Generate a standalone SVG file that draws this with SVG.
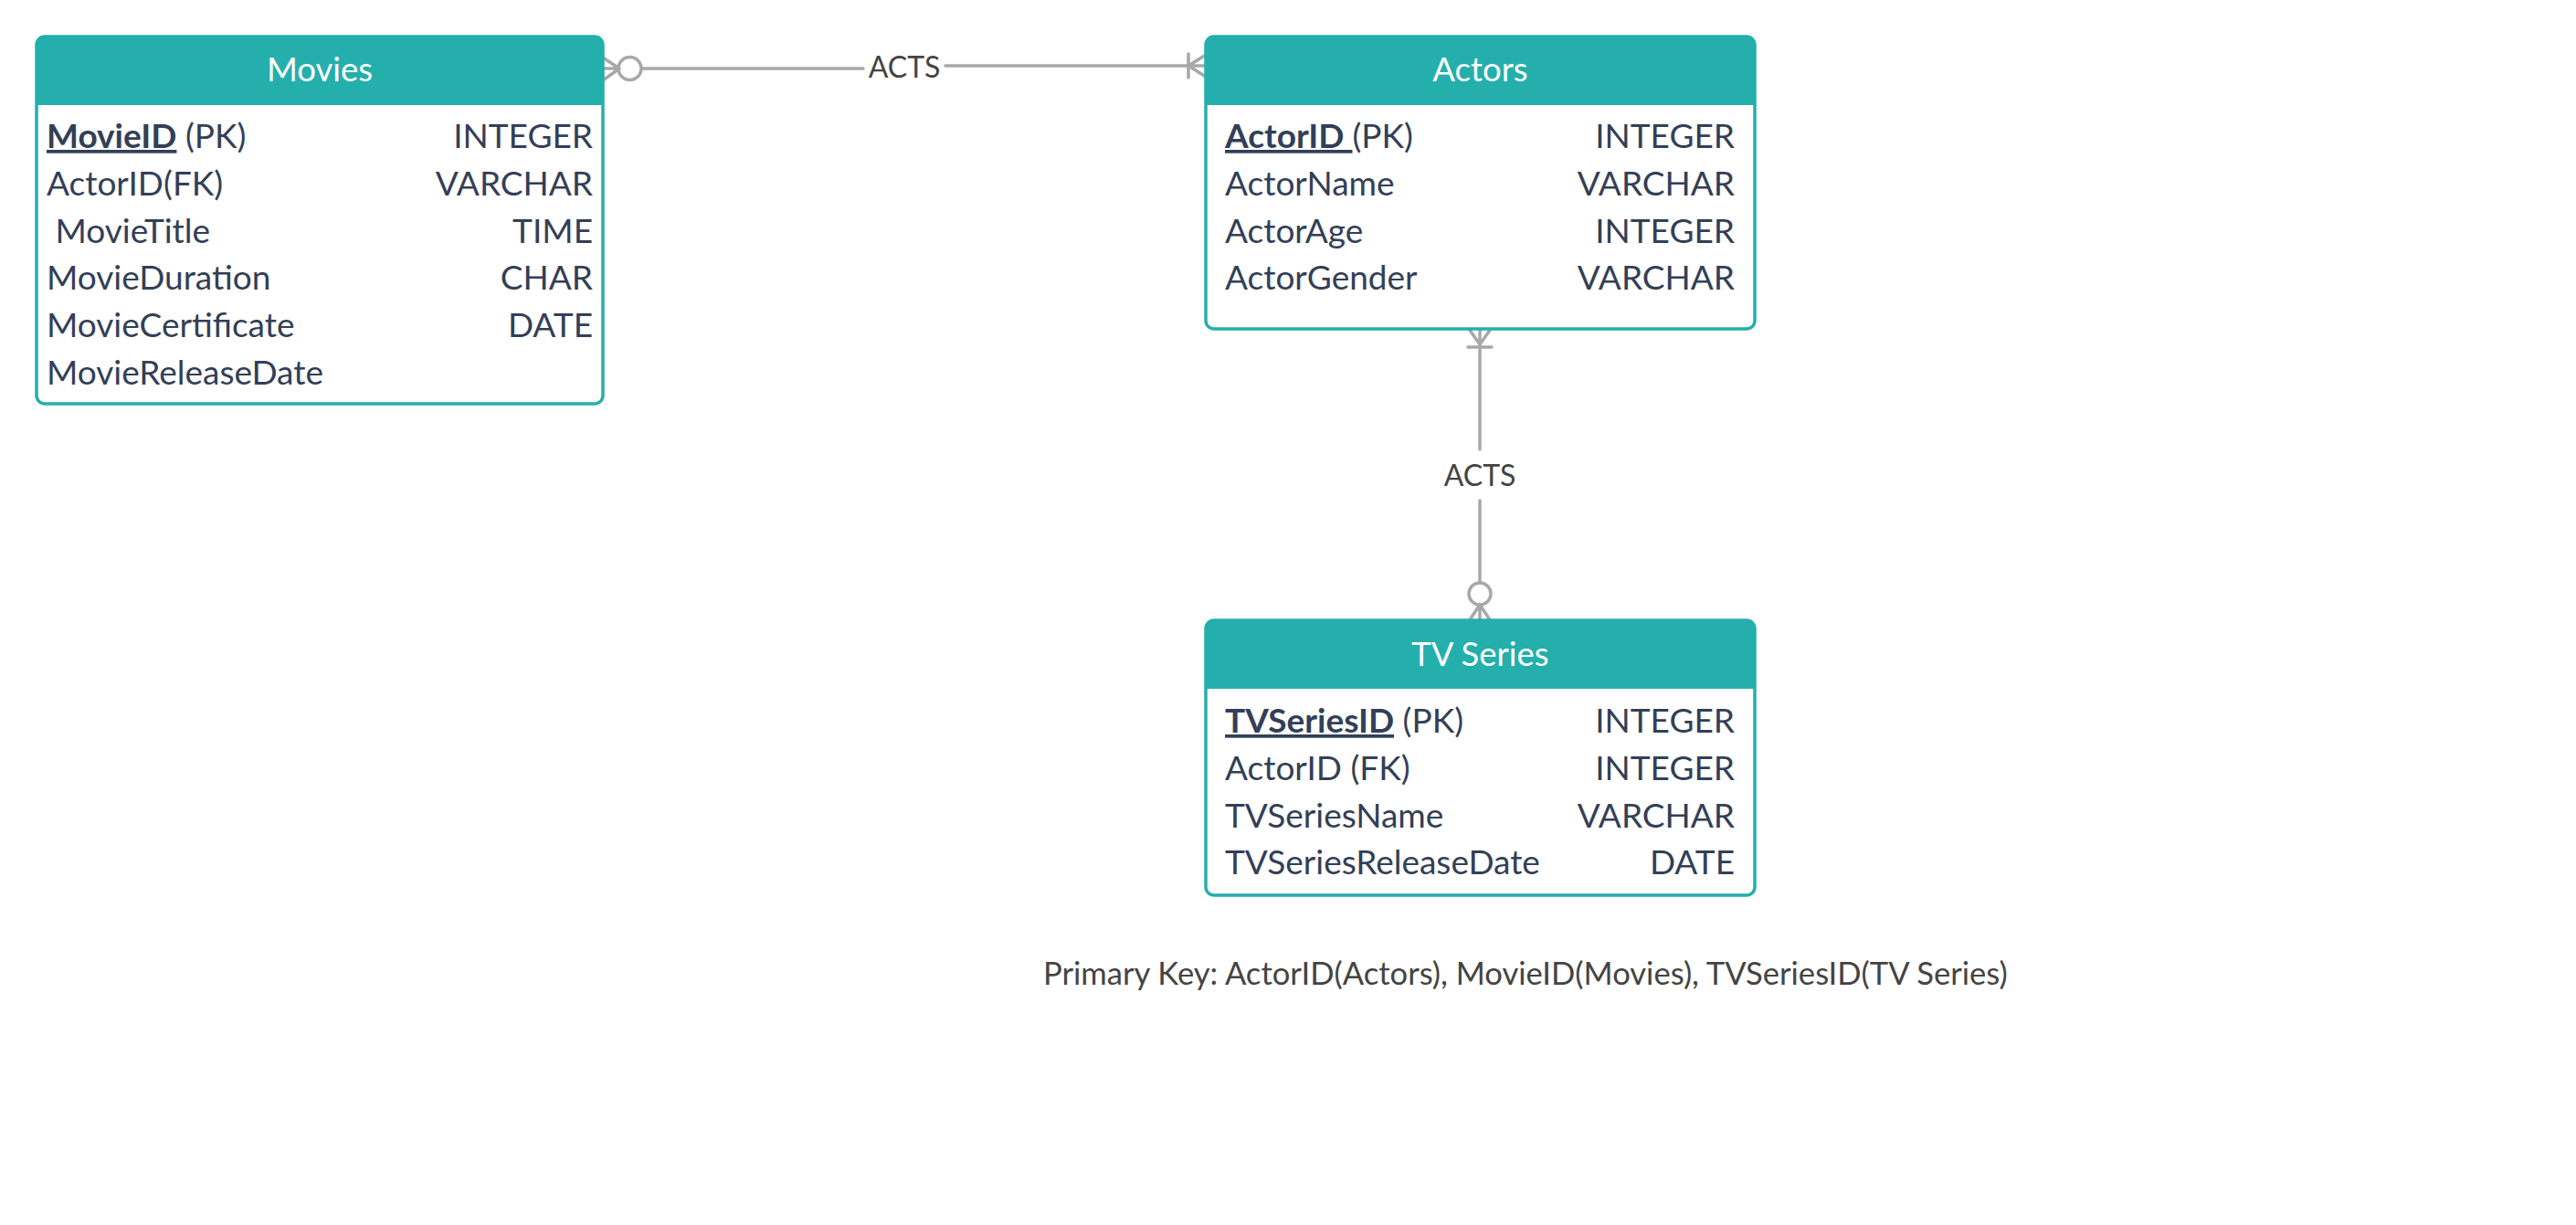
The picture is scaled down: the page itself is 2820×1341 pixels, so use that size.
<svg xmlns="http://www.w3.org/2000/svg" width="2820" height="1341" viewBox="0 0 2820 1341">
<style>
.box{fill:#ffffff;stroke:#24AFAC;stroke-width:3.5}
.hdr{fill:#24AFAC}
.title{font-family:Lato,"Liberation Sans",sans-serif;font-size:36.5px;fill:#ffffff;text-anchor:middle}
.row{font-family:Lato,"Liberation Sans",sans-serif;font-size:37px;fill:#333F57}
.type{font-family:Lato,"Liberation Sans",sans-serif;font-size:37px;fill:#333F57;text-anchor:end}
.pk{font-weight:bold;text-decoration:underline}
.conn{stroke:#A8A8A8;stroke-width:3.5;fill:none;stroke-linecap:round}
.lbl{font-family:Lato,"Liberation Sans",sans-serif;font-size:32px;fill:#444444;text-anchor:middle}
.note{font-family:Lato,"Liberation Sans",sans-serif;font-size:34.6px;fill:#444444}
</style>
<rect width="2820" height="1341" fill="#ffffff"/>

<g id="connectors">
  <!-- Movies - Actors -->
  <path class="conn" d="M660,63 L678,75 M660,88 L678,75 M660,75 L677,75"/>
  <circle class="conn" cx="689.5" cy="75" r="12.5"/>
  <path class="conn" d="M702,75 L945,75"/>
  <text class="lbl" x="990" y="85">ACTS</text>
  <path class="conn" d="M1035,72 L1320,72"/>
  <path class="conn" d="M1301,59 L1301,85 M1320,60 L1301,72 M1320,84 L1301,72"/>
  <!-- Actors - TV Series -->
  <path class="conn" d="M1608,360 L1620,377 M1632,360 L1620,377 M1607,380 L1633,380"/>
  <path class="conn" d="M1620,360 L1620,492"/>
  <text class="lbl" x="1620" y="532">ACTS</text>
  <path class="conn" d="M1620,548 L1620,638"/>
  <circle class="conn" cx="1620" cy="650" r="12"/>
  <path class="conn" d="M1620,662 L1608,680 M1620,662 L1632,680 M1620,662 L1620,680"/>
</g>

<g id="movies">
  <rect class="box" x="40" y="40" width="620" height="402" rx="9"/>
  <path class="hdr" d="M40,115 L40,49 Q40,40 49,40 L651,40 Q660,40 660,49 L660,115 Z"/>
  <text class="title" x="350" y="89">Movies</text>
  <text class="row" x="51" y="162"><tspan class="pk">MovieID</tspan> (PK)</text>
  <text class="type" x="649" y="162">INTEGER</text>
  <text class="row" x="51" y="214">ActorID(FK)</text>
  <text class="type" x="649" y="214">VARCHAR</text>
  <text class="row" x="51" y="266" xml:space="preserve"> MovieTitle</text>
  <text class="type" x="649" y="266">TIME</text>
  <text class="row" x="51" y="317">MovieDuration</text>
  <text class="type" x="649" y="317">CHAR</text>
  <text class="row" x="51" y="369">MovieCertificate</text>
  <text class="type" x="649" y="369">DATE</text>
  <text class="row" x="51" y="421">MovieReleaseDate</text>
</g>

<g id="actors">
  <rect class="box" x="1320" y="40" width="601" height="320" rx="9"/>
  <path class="hdr" d="M1320,115 L1320,49 Q1320,40 1329,40 L1912,40 Q1921,40 1921,49 L1921,115 Z"/>
  <text class="title" x="1620.5" y="89">Actors</text>
  <text class="row" x="1341" y="162" xml:space="preserve"><tspan class="pk">ActorID </tspan>(PK)</text>
  <text class="type" x="1899" y="162">INTEGER</text>
  <text class="row" x="1341" y="214">ActorName</text>
  <text class="type" x="1899" y="214">VARCHAR</text>
  <text class="row" x="1341" y="266">ActorAge</text>
  <text class="type" x="1899" y="266">INTEGER</text>
  <text class="row" x="1341" y="317">ActorGender</text>
  <text class="type" x="1899" y="317">VARCHAR</text>
</g>

<g id="tvseries">
  <rect class="box" x="1320" y="679" width="601" height="301" rx="9"/>
  <path class="hdr" d="M1320,754 L1320,688 Q1320,679 1329,679 L1912,679 Q1921,679 1921,688 L1921,754 Z"/>
  <text class="title" x="1620.5" y="729">TV Series</text>
  <text class="row" x="1341" y="802"><tspan class="pk">TVSeriesID</tspan> (PK)</text>
  <text class="type" x="1899" y="802">INTEGER</text>
  <text class="row" x="1341" y="854">ActorID (FK)</text>
  <text class="type" x="1899" y="854">INTEGER</text>
  <text class="row" x="1341" y="906">TVSeriesName</text>
  <text class="type" x="1899" y="906">VARCHAR</text>
  <text class="row" x="1341" y="957">TVSeriesReleaseDate</text>
  <text class="type" x="1899" y="957">DATE</text>
</g>

<g id="note">
  <text class="note" x="1142" y="1078">Primary Key: ActorID(Actors), MovieID(Movies), TVSeriesID(TV Series)</text>
</g>
</svg>
